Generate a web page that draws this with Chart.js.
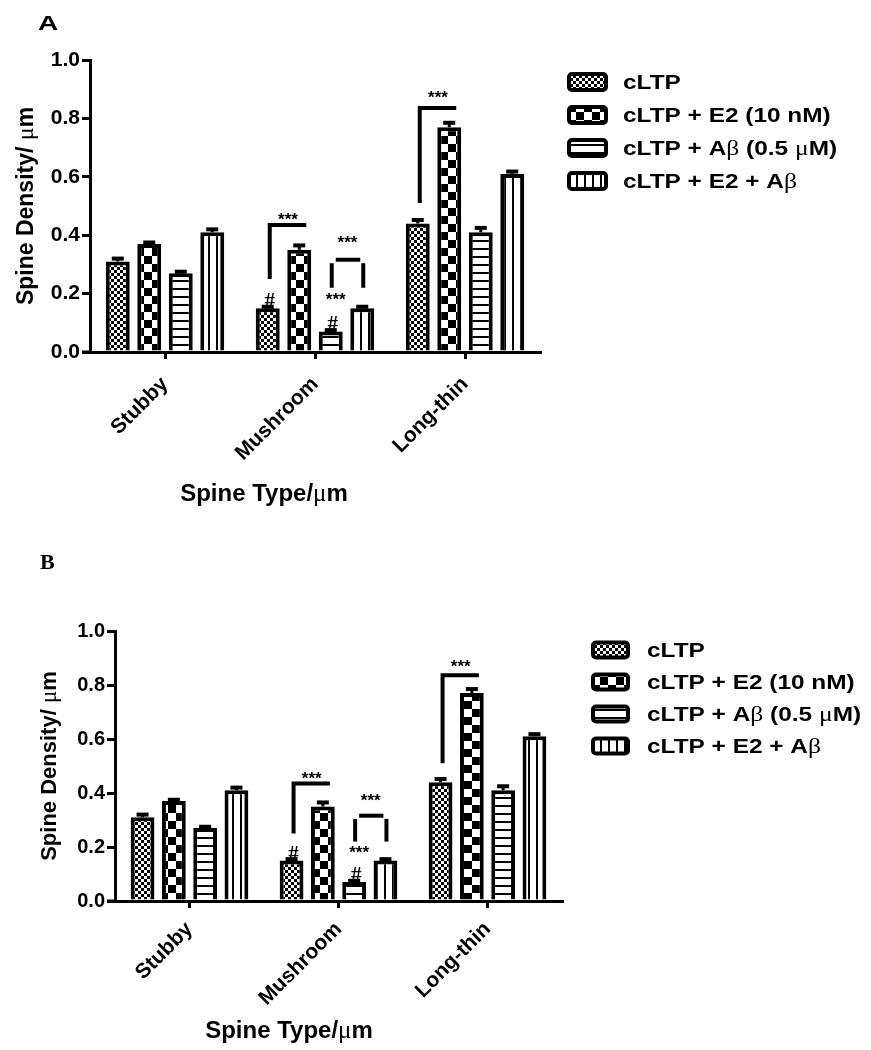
<!DOCTYPE html>
<html><head><meta charset="utf-8">
<script src="https://cdn.jsdelivr.net/npm/chart.js@4.4.1/dist/chart.umd.min.js"></script>
<style>
html,body{margin:0;padding:0;background:#fff;}
#wrap{position:relative;width:871px;height:1050px;overflow:hidden;}
canvas{position:absolute;left:0;}
#cA{top:0}
#cB{top:525px}
</style></head><body>
<div id="wrap"><canvas id="cA" width="871" height="525"></canvas><canvas id="cB" width="871" height="525"></canvas></div>
<script>
// ---------- DATA ----------
const categories = ['Stubby', 'Mushroom', 'Long-thin'];
const seriesLabels = ['cLTP', 'cLTP + E2 (10 nM)', 'cLTP + A\u03B2 (0.5 \u03BCM)', 'cLTP + E2 + A\u03B2'];
const cLTP      = [0.31, 0.15, 0.44];
const cLTP_E2   = [0.37, 0.35, 0.77];
const cLTP_Ab   = [0.27, 0.07, 0.41];
const cLTP_E2Ab = [0.41, 0.15, 0.61];
const err_cLTP      = [0.010, 0.005, 0.012];
const err_cLTP_E2   = [0.005, 0.015, 0.015];
const err_cLTP_Ab   = [0.005, 0.005, 0.015];
const err_cLTP_E2Ab = [0.010, 0.005, 0.008];
const yTicks = [0, 0.2, 0.4, 0.6, 0.8, 1.0];
const yTitle = 'Spine Density/ \u03BCm';
const xTitle = 'Spine Type/\u03BCm';
// significance annotations (in data units)
const brackets = [
  {cat: 1, from: 0, to: 1, leg: 0.25, top: 0.435, stars: 0.47},
  {cat: 2, from: 0, to: 1, leg: 0.51, top: 0.836, stars: 0.887}
];
const gapBrackets = [{cat: 1, from: 2, to: 3, leg: 0.22, top: 0.316, stars: 0.39}];
const hashMarks = [{cat: 1, ds: 0, y: 0.178}, {cat: 1, ds: 2, y: 0.10}];
const starMarks = [{cat: 1, ds: 2, y: 0.195}];

const seriesValues = [cLTP, cLTP_E2, cLTP_Ab, cLTP_E2Ab];
const seriesErrors = [err_cLTP, err_cLTP_E2, err_cLTP_Ab, err_cLTP_E2Ab];

// ---------- STYLE / LAYOUT ----------
const panels = {
  A: {canvas: 'cA', h: 525, left: 90, right: 540, top: 60, bottom: 352, yTick: 21, xTickPad: 13,
      yTitleX: 33, yTitleSize: 23, xTitleX: 264, xTitleY: 501, xTitleSize: 24,
      legBoxX: 569, legBoxW: 37, legBoxH: 16, legTextX: 623, legRows: [82, 115, 148, 181],
      label: 'A', labelX: 38, labelY: 30},
  B: {canvas: 'cB', h: 525, left: 115, right: 562, top: 106, bottom: 376, yTick: 20, xTickPad: 9,
      yTitleX: 56, yTitleSize: 22, xTitleX: 289, xTitleY: 513, xTitleSize: 24,
      legBoxX: 593, legBoxW: 35, legBoxH: 15, legTextX: 647, legRows: [125, 157, 189, 221],
      label: 'B', labelX: 40, labelY: 44}
};
const SANS = '"Liberation Sans", Arial, sans-serif';
const SERIF = '"Liberation Serif", "Times New Roman", serif';

function makePatterns(ctx) {
  function pat(w, h, draw) {
    const c = document.createElement('canvas'); c.width = w; c.height = h;
    const x = c.getContext('2d'); x.fillStyle = '#fff'; x.fillRect(0, 0, w, h); x.fillStyle = '#000'; draw(x);
    return ctx.createPattern(c, 'repeat');
  }
  return [
    pat(6, 6, x => { x.fillRect(0, 0, 3, 3); x.fillRect(3, 3, 3, 3); }),
    pat(16, 16, x => { x.fillRect(0, 0, 8, 8); x.fillRect(8, 8, 8, 8); }),
    pat(8, 8, x => { x.fillRect(0, 0, 8, 2); }),
    pat(8, 8, x => { x.fillRect(0, 0, 2, 8); })
  ];
}

function splitRuns(text) {
  const runs = []; let cur = '', curG = null;
  for (const ch of text) {
    const g = /[\u0370-\u03FF\u00B5]/.test(ch);
    if (curG === null || g === curG) { cur += ch; curG = g; }
    else { runs.push({t: cur, g: curG}); cur = ch; curG = g; }
  }
  if (cur) runs.push({t: cur, g: curG});
  return runs;
}
function drawRich(ctx, text, x, y, size, align) {
  const runs = splitRuns(text);
  let total = 0;
  runs.forEach(r => { ctx.font = r.g ? `${size + 1}px ${SERIF}` : `bold ${size}px ${SANS}`; r.w = ctx.measureText(r.t).width; total += r.w; });
  let cx = align === 'center' ? x - total / 2 : x;
  runs.forEach(r => { ctx.font = r.g ? `${size + 1}px ${SERIF}` : `bold ${size}px ${SANS}`; ctx.fillText(r.t, cx, y); cx += r.w; });
}

function overlay(P, pats) {
  return {
    id: 'overlay',
    afterDatasetsDraw(chart) {
      const ctx = chart.ctx, ys = chart.scales.y;
      const py = v => ys.getPixelForValue(v);
      ctx.save();
      ctx.strokeStyle = '#000'; ctx.fillStyle = '#000'; ctx.lineCap = 'butt';
      // error bars
      chart.data.datasets.forEach((ds, di) => {
        chart.getDatasetMeta(di).data.forEach((bar, i) => {
          const yt = py(ds.data[i] + ds.errors[i]);
          ctx.lineWidth = 3; ctx.beginPath(); ctx.moveTo(bar.x, bar.y); ctx.lineTo(bar.x, yt); ctx.stroke();
          ctx.lineWidth = 4; ctx.beginPath(); ctx.moveTo(bar.x - 6, yt); ctx.lineTo(bar.x + 6, yt); ctx.stroke();
        });
      });
      const barAt = (ds, cat) => chart.getDatasetMeta(ds).data[cat];
      function stars(x, yv) {
        ctx.font = `bold 17px ${SANS}`; ctx.textAlign = 'center'; ctx.textBaseline = 'alphabetic';
        ctx.fillText('***', x, py(yv) + 10);
      }
      ctx.lineWidth = 4; ctx.lineJoin = 'miter';
      brackets.forEach(b => {
        const lx = barAt(b.from, b.cat).x + 2, rx = barAt(b.to, b.cat).x + 7;
        ctx.beginPath(); ctx.moveTo(lx, py(b.leg)); ctx.lineTo(lx, py(b.top)); ctx.lineTo(rx, py(b.top)); ctx.stroke();
        stars((lx + rx) / 2, b.stars);
      });
      gapBrackets.forEach(b => {
        const lx = barAt(b.from, b.cat).x + 1, rx = barAt(b.to, b.cat).x + 1;
        ctx.beginPath(); ctx.moveTo(lx, py(b.leg)); ctx.lineTo(lx, py(b.top - 0.012)); ctx.stroke();
        ctx.beginPath(); ctx.moveTo(lx + 4, py(b.top)); ctx.lineTo(rx - 3, py(b.top)); ctx.stroke();
        ctx.beginPath(); ctx.moveTo(rx, py(b.top - 0.012)); ctx.lineTo(rx, py(b.leg)); ctx.stroke();
        stars((lx + rx) / 2, b.stars);
      });
      starMarks.forEach(s => stars(barAt(s.ds, s.cat).x + 5, s.y));
      hashMarks.forEach(h => {
        ctx.font = `bold 21px ${SERIF}`; ctx.textAlign = 'center'; ctx.textBaseline = 'alphabetic';
        ctx.fillText('#', barAt(h.ds, h.cat).x + 2, py(h.y) + 7);
      });
      ctx.restore();
    },
    afterDraw(chart) {
      const ctx = chart.ctx, ca = chart.chartArea;
      ctx.save();
      ctx.fillStyle = '#000'; ctx.strokeStyle = '#000';
      // x axis extension left of the y axis
      ctx.lineWidth = 3; ctx.beginPath(); ctx.moveTo(ca.left - 8, ca.bottom); ctx.lineTo(ca.left, ca.bottom); ctx.stroke();
      ctx.textBaseline = 'alphabetic'; ctx.textAlign = 'left';
      // y title
      ctx.save(); ctx.translate(P.yTitleX, (ca.top + ca.bottom) / 2); ctx.rotate(-Math.PI / 2);
      drawRich(ctx, yTitle, 0, 0, P.yTitleSize, 'center'); ctx.restore();
      // x title
      drawRich(ctx, xTitle, P.xTitleX, P.xTitleY, P.xTitleSize, 'center');
      // legend
      chart.data.datasets.forEach((ds, i) => {
        const cy = P.legRows[i];
        ctx.beginPath(); ctx.roundRect(P.legBoxX, cy - P.legBoxH / 2, P.legBoxW, P.legBoxH, 3);
        ctx.fillStyle = pats[i]; ctx.fill();
        ctx.lineWidth = 4; ctx.strokeStyle = '#000'; ctx.stroke();
        ctx.fillStyle = '#000';
        ctx.save(); ctx.translate(P.legTextX, cy + 7); ctx.scale(1.22, 1);
        drawRich(ctx, ds.label, 0, 0, 20, 'left'); ctx.restore();
      });
      // panel label
      ctx.save(); ctx.translate(P.labelX, P.labelY);
      if (P.label === 'A') { ctx.scale(1.4, 1); ctx.font = `bold 20px ${SANS}`; }
      else { ctx.font = `bold 22px ${SERIF}`; }
      ctx.fillText(P.label, 0, 0); ctx.restore();
      ctx.restore();
    }
  };
}

function makeChart(P) {
  const ctx = document.getElementById(P.canvas).getContext('2d');
  const pats = makePatterns(ctx);
  return new Chart(ctx, {
    type: 'bar',
    data: {
      labels: categories,
      datasets: seriesValues.map((vals, i) => ({
        label: seriesLabels[i], data: vals, errors: seriesErrors[i],
        backgroundColor: pats[i], borderColor: '#000', borderWidth: 4,
        categoryPercentage: 0.84, barPercentage: 0.76
      }))
    },
    options: {
      responsive: false, animation: false, devicePixelRatio: 1,
      layout: {padding: {left: 0, top: P.top, right: 871 - P.right, bottom: 0}},
      plugins: {legend: {display: false}, tooltip: {enabled: false}},
      scales: {
        x: {
          afterFit: s => { s.height = P.h - P.bottom; },
          grid: {offset: false, drawOnChartArea: false, drawTicks: true, tickLength: 7, lineWidth: 3, color: '#000'},
          border: {display: true, color: '#000', width: 3},
          ticks: {color: '#000', font: {family: SANS, weight: 'bold', size: 21}, minRotation: 45, maxRotation: 45, padding: P.xTickPad, autoSkip: false}
        },
        y: {
          min: 0, max: 1,
          afterFit: s => { s.width = P.left; },
          afterBuildTicks: s => { s.ticks = yTicks.map(v => ({value: v})); },
          grid: {drawOnChartArea: false, drawTicks: true, tickLength: 8, lineWidth: 3, color: '#000'},
          border: {display: true, color: '#000', width: 3},
          ticks: {color: '#000', font: {family: SANS, weight: 'bold', size: P.yTick}, padding: 2, callback: v => Number(v).toFixed(1)}
        }
      }
    },
    plugins: [overlay(P, pats)]
  });
}
makeChart(panels.A);
makeChart(panels.B);
</script>
</body></html>
